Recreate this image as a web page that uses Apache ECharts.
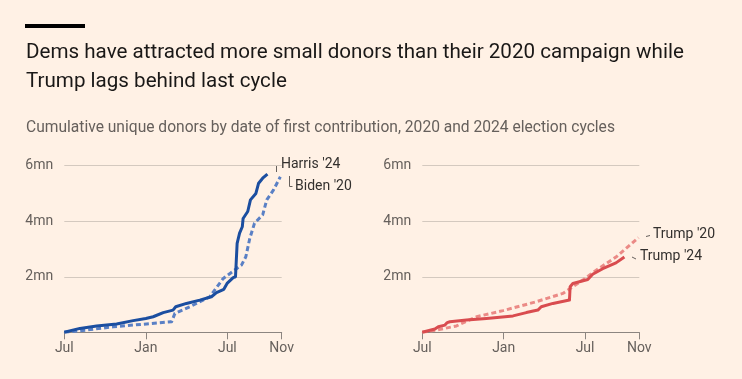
<!DOCTYPE html>
<html>
<head>
<meta charset="utf-8">
<script src="https://cdn.jsdelivr.net/npm/echarts@6/dist/echarts.min.js"></script>
<style>
html,body{margin:0;padding:0;background:#fff1e5;}
#c{width:742px;height:379px;}
</style>
</head>
<body>
<div id="c"></div>
<script>
// x = months since 1 July of the year before the election
var xTickValues = [0, 6, 12, 16];
var xTickLabels = ['Jul', 'Jan', 'Jul', 'Nov'];
var yTickLabels = ['', '2mn', '4mn', '6mn'];

var harris24 = [[0,0],[1.15,0.14],[2.38,0.23],[3.85,0.30],[5.07,0.42],[6.0,0.50],[6.54,0.56],[7.28,0.71],[8.0,0.80],[8.2,0.92],[8.99,1.04],[9.97,1.16],[10.83,1.28],[11.2,1.43],[11.74,1.55],[11.98,1.76],[12.43,1.97],[12.6,2.0],[12.72,3.2],[12.9,3.57],[13.1,3.8],[13.16,4.1],[13.5,4.35],[13.7,4.77],[14.1,5.0],[14.3,5.37],[14.6,5.55],[14.95,5.70]];
var biden20 = [[0,0],[1.64,0.08],[3.6,0.2],[6.05,0.30],[7.9,0.38],[8.14,0.68],[9.24,0.92],[10.7,1.28],[11.7,1.94],[12.2,2.12],[13.04,2.42],[13.36,2.72],[13.65,3.38],[14.0,3.93],[14.6,4.23],[14.9,4.77],[15.4,5.13],[15.9,5.6]];
var trump24 = [[0,0],[0.93,0.12],[1.18,0.20],[1.67,0.26],[1.84,0.35],[2.03,0.38],[3.26,0.44],[4.73,0.50],[6.69,0.59],[7.67,0.71],[8.52,0.80],[8.77,0.92],[9.63,1.04],[10.85,1.16],[10.9,1.64],[11.1,1.76],[12.2,1.90],[12.56,2.09],[13.3,2.29],[14.28,2.50],[14.9,2.71]];
var trump20 = [[0,0],[1.05,0.08],[2.52,0.23],[4.0,0.56],[5.95,0.78],[8.4,1.10],[10.36,1.40],[11.83,1.88],[12.8,2.23],[14.28,2.71],[15.94,3.41]];

var FONT = 'Roboto, "Open Sans", sans-serif';
var chart = echarts.init(document.getElementById('c'), null, {renderer: 'canvas'});

function xAxis(idx) {
  return {
    type: 'value', gridIndex: idx, min: 0, max: 16,
    splitLine: {show: false},
    axisLine: {show: true, lineStyle: {color: '#8c8580', width: 1}},
    axisTick: {show: true, customValues: xTickValues, length: 7, lineStyle: {color: '#8c8580'}},
    axisLabel: {
      customValues: xTickValues, margin: 9, color: '#66605c', fontSize: 14, fontFamily: FONT,
      formatter: function (v) { var i = xTickValues.indexOf(v); return i >= 0 ? xTickLabels[i] : ''; }
    }
  };
}
function yAxis(idx) {
  return {
    type: 'value', gridIndex: idx, min: 0, max: 6, interval: 2,
    axisLine: {show: false}, axisTick: {show: false},
    splitLine: {show: true, lineStyle: {color: '#d4c9bf', width: 1}},
    axisLabel: {
      align: 'left', margin: 39, color: '#66605c', fontSize: 14, fontFamily: FONT,
      formatter: function (v) { return yTickLabels[Math.round(v / 2)]; }
    }
  };
}
function line(name, data, idx, color, dashed, z) {
  return {
    name: name, type: 'line', xAxisIndex: idx, yAxisIndex: idx, data: data,
    showSymbol: false, symbol: 'none', animation: false, z: z,
    lineStyle: {color: color, width: 3, type: dashed ? [5, 3] : 'solid', cap: 'butt', join: 'round'}
  };
}

var labelStyle = {fill: '#33302e', fontSize: 14, fontFamily: FONT, textVerticalAlign: 'middle'};
function txt(x, y, s) {
  return {type: 'text', left: x, top: y - 9, style: Object.assign({text: s}, labelStyle)};
}
function pl(points) {
  return {type: 'polyline', shape: {points: points}, style: {stroke: '#66605c', lineWidth: 1, fill: null}};
}

chart.setOption({
  backgroundColor: '#fff1e5',
  animation: false,
  grid: [
    {left: 64.3, right: 460.3, top: 165.7, bottom: 46.7},
    {left: 422.3, right: 102.7, top: 165.7, bottom: 46.7}
  ],
  xAxis: [xAxis(0), xAxis(1)],
  yAxis: [yAxis(0), yAxis(1)],
  series: [
    line("Biden '20", biden20, 0, '#5a80c5', true, 2),
    line("Harris '24", harris24, 0, '#1b4ea0', false, 3),
    line("Trump '20", trump20, 1, '#eb8a86', true, 2),
    line("Trump '24", trump24, 1, '#d94c4f', false, 3)
  ],
  graphic: [
    {type: 'rect', shape: {x: 25, y: 24, width: 60, height: 4}, style: {fill: '#000'}},
    {type: 'text', left: 26, top: 42, style: {text: 'Dems have attracted more small donors than their 2020 campaign while', fill: '#1a1817', fontSize: 20.6, fontFamily: FONT}},
    {type: 'text', left: 26, top: 71, style: {text: 'Trump lags behind last cycle', fill: '#1a1817', fontSize: 20.6, fontFamily: FONT}},
    {type: 'text', left: 26, top: 120, style: {text: 'Cumulative unique donors by date of first contribution, 2020 and 2024 election cycles', fill: '#66605c', fontSize: 15.6, fontFamily: FONT}},
    txt(281, 166, "Harris '24"),
    txt(295, 188, "Biden '20"),
    txt(653, 236, "Trump '20"),
    txt(640, 258, "Trump '24"),
    pl([[274, 165.5], [276.5, 165.5], [276.5, 172]]),
    pl([[289.5, 176], [289.5, 186.5], [292.5, 186.5]]),
    pl([[646, 236.5], [650, 235.5]]),
    pl([[632, 257], [636, 259]])
  ]
});
</script>
</body>
</html>
